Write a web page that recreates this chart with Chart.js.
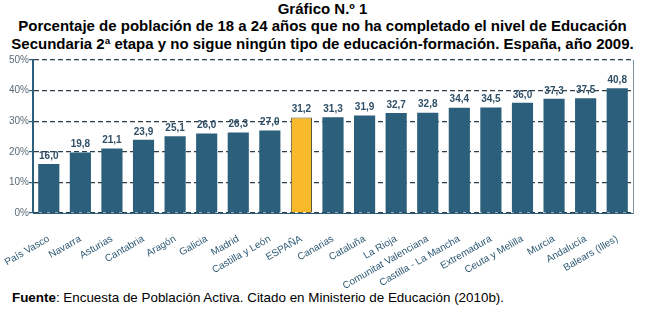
<!DOCTYPE html>
<html>
<head>
<meta charset="utf-8">
<script src="https://cdn.jsdelivr.net/npm/chart.js@4"></script>
<style>
  body { margin: 0; width: 645px; height: 315px; background: #fff; font-family: "Liberation Sans", Arial, sans-serif; position: relative; overflow: hidden; }
  .t { position: absolute; left: 0; width: 645px; text-align: center; font-weight: bold; color: #000; white-space: nowrap; }
  #t1 { top: 0px; font-size: 15px; }
  #t2 { top: 17px; font-size: 15px; }
  #t3 { top: 35px; font-size: 15px; }
  #wrap { position: absolute; left: 0; top: 50px; width: 645px; height: 240px; }
  #src { position: absolute; left: 12px; top: 290px; font-size: 13.4px; color: #000; white-space: nowrap; }
</style>
</head>
<body>
<div class="t" id="t1">Gráfico N.º 1</div>
<div class="t" id="t2">Porcentaje de población de 18 a 24 años que no ha completado el nivel de Educación</div>
<div class="t" id="t3">Secundaria 2ª etapa y no sigue ningún tipo de educación-formación. España, año 2009.</div>
<div id="wrap"><canvas id="chart"></canvas></div>
<div id="src"><b>Fuente</b>: Encuesta de Población Activa. Citado en Ministerio de Educación (2010b).</div>
<script>
// regiones ordenadas de menor a mayor
const regiones = ['País Vasco', 'Navarra', 'Asturias', 'Cantabria', 'Aragón', 'Galicia', 'Madrid',
  'Castilla y León', 'ESPAÑA', 'Canarias', 'Cataluña', 'La Rioja', 'Comunitat Valenciana',
  'Castilla - La Mancha', 'Extremadura', 'Ceuta y Melilla', 'Murcia', 'Andalucía', 'Balears (Illes)'];
const porcentajes = [16.0, 19.8, 21.1, 23.9, 25.1, 26.0, 26.3, 27.0, 31.2, 31.3, 31.9, 32.7, 32.8,
  34.4, 34.5, 36.0, 37.3, 37.5, 40.8];
const ticksY = [0, 10, 20, 30, 40, 50];

const azul = '#2c5f7b';
const amarillo = '#f8b92a';

// etiqueta con el valor encima de cada barra
const etiquetas = {
  id: 'etiquetas',
  afterDatasetsDraw(chart) {
    const ctx = chart.ctx;
    const meta = chart.getDatasetMeta(0);
    ctx.save();
    ctx.font = 'bold 10px "Liberation Sans", Arial, sans-serif';
    ctx.fillStyle = '#2f4f66';
    ctx.textAlign = 'center';
    ctx.textBaseline = 'bottom';
    meta.data.forEach((bar, i) => {
      ctx.fillText(porcentajes[i].toFixed(1).replace('.', ','), bar.x, bar.y - 3);
    });
    ctx.restore();
  }
};

new Chart(document.getElementById('chart').getContext('2d'), {
  type: 'bar',
  data: {
    labels: regiones,
    datasets: [{
      data: porcentajes,
      backgroundColor: regiones.map(r => r === 'ESPAÑA' ? amarillo : azul),
      borderColor: regiones.map(r => r === 'ESPAÑA' ? '#5b5a3c' : azul),
      borderWidth: regiones.map(r => r === 'ESPAÑA' ? 1 : 0),
      barPercentage: 0.67,
      categoryPercentage: 1
    }]
  },
  options: {
    responsive: true,
    maintainAspectRatio: false,
    animation: false,
    layout: { padding: { left: 0, right: 12, top: 10, bottom: 0 } },
    plugins: { legend: { display: false }, tooltip: { enabled: false } },
    scales: {
      x: {
        // altura fija y sin margen extra por las etiquetas giradas
        afterFit: s => { s.height = 77; s.paddingLeft = 0; s.paddingRight = 0; },
        grid: { display: false },
        border: { color: azul, width: 1 },
        ticks: {
          minRotation: 30, maxRotation: 30, autoSkip: false,
          color: '#2f5a74', padding: 12,
          font: { family: '"Liberation Sans", Arial, sans-serif', size: 10 }
        }
      },
      y: {
        min: 0, max: 50,
        afterFit: s => { s.width = 33; },
        afterBuildTicks: axis => { axis.ticks = ticksY.map(v => ({ value: v })); },
        grid: { color: '#2f3f4a', lineWidth: 1.2, tickLength: 4, tickColor: azul, drawTicks: true },
        border: { color: azul, width: 2, dash: [5, 3] },
        ticks: {
          color: '#5a6b78', padding: 0,
          font: { family: '"Liberation Sans", Arial, sans-serif', size: 10 },
          callback: v => v + '%'
        }
      },
      y2: {
        position: 'right', min: 0, max: 50,
        afterFit: s => { s.width = 0; },
        grid: { display: false, drawTicks: false },
        border: { color: '#7b96a8', width: 1 },
        ticks: { display: false }
      }
    }
  },
  plugins: [etiquetas]
});
</script>
</body>
</html>
